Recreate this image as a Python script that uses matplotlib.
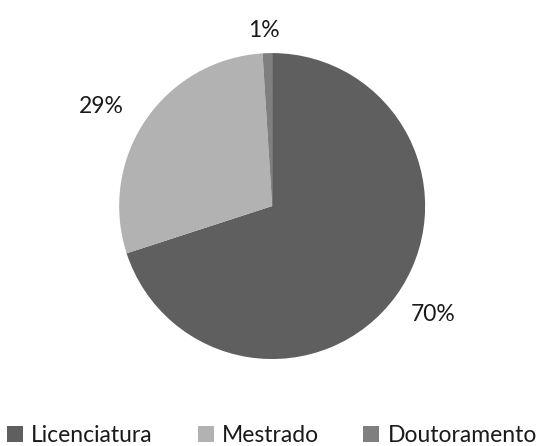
import numpy as np
import matplotlib
matplotlib.use("Agg")
import matplotlib.pyplot as plt

# datos del gráfico
categorias = ["Licenciatura", "Mestrado", "Doutoramento"]
valores = [70, 29, 1]
colores = ["#5f5f5f", "#b2b2b2", "#7f7f7f"]

# posición de las etiquetas (radio relativo y desplazamiento en grados)
distancias = [1.27, 1.29, 1.15]
giros = [2, 4, 1]

plt.rcParams["font.family"] = ["Lato", "DejaVu Sans"]

fig = plt.figure(figsize=(5.44, 4.46), dpi=100)
ax = fig.add_axes([0.219, 0.195, 0.5625, 0.686])

wedges, _ = ax.pie(valores, colors=colores, startangle=90, counterclock=False,
                   wedgeprops={"linewidth": 0})
ax.set_aspect("equal")
ax.set_xlim(-1, 1)
ax.set_ylim(-1, 1)

total = sum(valores)
for w, v, d, g in zip(wedges, valores, distancias, giros):
    ang = np.deg2rad((w.theta1 + w.theta2) / 2 + g)
    ax.text(d * np.cos(ang), d * np.sin(ang), f"{v / total * 100:.0f}%",
            ha="center", va="center", fontsize=16.5, color="#1a1a1a")

fig.legend(wedges, categorias, loc="center", bbox_to_anchor=(0.5, 0.024), ncol=3,
           frameon=False, fontsize=16.5, handlelength=0.7, handleheight=0.7,
           handletextpad=0.35, columnspacing=1.95, labelcolor="#1a1a1a",
           borderpad=0)

fig.savefig("out.png", dpi=100)
